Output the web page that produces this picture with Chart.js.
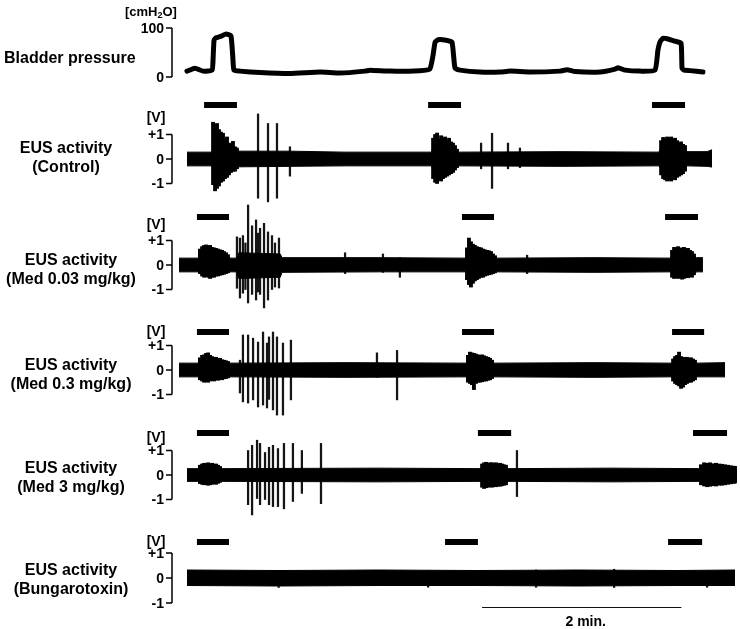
<!DOCTYPE html>
<html lang="en">
  <head>
    <meta charset="UTF-8" />
    <title>Bladder pressure and EUS activity</title>
    <script src="https://cdn.jsdelivr.net/npm/chart.js"></script>
    <style>
      body {
        margin: 0;
        background: #fff;
      }
      .figure {
        position: relative;
        width: 740px;
        height: 629px;
      }
      .figure canvas {
        position: absolute;
        left: 0;
      }
    </style>
  </head>
  <body>
    <div class="figure">
      <canvas id="bladder" width="740" height="96" style="top: 0px"></canvas>
      <canvas id="ctrl" width="740" height="108" style="top: 96px"></canvas>
      <canvas id="m003" width="740" height="110" style="top: 204px"></canvas>
      <canvas id="m03" width="740" height="108" style="top: 314px"></canvas>
      <canvas id="m3" width="740" height="100" style="top: 422px"></canvas>
      <canvas id="btx" width="740" height="107" style="top: 522px"></canvas>
    </div>
    <script>
      const font = '"Liberation Sans", Arial, sans-serif';

      // time axis, seconds
      const timeMin = 0;
      const timeMax = 336;
      const scaleBarStart = 182.5;
      const scaleBarLen = 120; // 2 min.

      const bladderTicks = [100, 0];
      const bladderTickLabels = ["100", "0"];
      const eusTicks = [1, 0, -1];
      const eusTickLabels = ["+1", "0", "-1"];

      // bladder pressure (cmH2O)
      const bladderT = [4.8, 9.6, 14.5, 19.9, 20.5, 21.1, 22.3, 25.9, 28.3, 31.3, 32.5, 33.1, 36.7, 48.8, 66.8, 84.9, 97, 112, 115, 127, 145, 151, 153, 154.2, 156, 160.8, 164.4, 166.2, 169.2, 181.3, 193.3, 199.3, 211.4, 229.4, 233.7, 238.5, 253.5, 262.6, 264.4, 268.6, 277.6, 286.6, 288.4, 289.6, 291.4, 293.9, 298.7, 302.3, 302.9, 304.1, 307.7, 315.5];
      const bladderP = [12, 18, 12, 14, 35, 75, 80, 84, 88, 84, 35, 14, 12, 9, 7, 10, 8, 12, 14, 12, 13, 16, 45, 71, 76, 75, 71, 18, 14, 10, 10, 12, 10, 12, 15, 11, 10, 16, 19, 14, 12, 14, 55, 71, 79, 78, 73, 69, 18, 14, 13, 10];

      // EUS activity (V): noise envelope, burst samples, single spikes, voiding bars
      const ctrlT = [4.8, 20, 20.5, 35, 36.5, 66.8, 100, 152, 153, 167.4, 168, 230, 289, 290.3, 304.7, 305.5, 318, 321];
      const ctrlHi = [0.28, 0.28, 0.5, 0.4, 0.32, 0.32, 0.28, 0.28, 0.5, 0.35, 0.28, 0.3, 0.28, 0.5, 0.45, 0.3, 0.3, 0.38];
      const ctrlLo = [-0.28, -0.28, -0.45, -0.35, -0.32, -0.3, -0.28, -0.28, -0.45, -0.32, -0.28, -0.3, -0.28, -0.45, -0.45, -0.28, -0.3, -0.33];
      const ctrlBurstT = [20.5, 21.7, 22.9, 24.1, 25.3, 26.5, 27.7, 28.9, 30.1, 31.3, 32.5, 33.7, 34.9, 153, 154.2, 155.4, 156.6, 157.8, 159, 160.2, 161.4, 162.6, 163.8, 165, 166.2, 167.4, 290.3, 291.5, 292.7, 293.9, 295.1, 296.3, 297.5, 298.7, 299.9, 301.1, 302.3, 303.5, 304.7];
      const ctrlBurstHi = [1.5, 1.4, 1.45, 1.2, 1.1, 1.05, 0.8, 0.9, 0.65, 0.6, 0.72, 0.5, 0.45, 0.85, 1.0, 1.06, 0.8, 0.95, 0.85, 0.9, 0.75, 0.85, 0.7, 0.65, 0.55, 0.4, 0.75, 0.88, 0.8, 0.9, 0.85, 0.9, 0.8, 0.85, 0.75, 0.65, 0.7, 0.6, 0.55];
      const ctrlBurstLo = [-1.05, -1.3, -1.2, -1.1, -0.95, -0.9, -0.8, -0.75, -0.65, -0.55, -0.5, -0.5, -0.4, -0.8, -0.95, -1.0, -0.85, -0.9, -0.8, -0.75, -0.7, -0.65, -0.6, -0.55, -0.45, -0.35, -0.65, -0.8, -0.85, -0.9, -0.85, -0.9, -0.8, -0.85, -0.75, -0.7, -0.65, -0.6, -0.5];
      const ctrlSpikeT = [47.6, 53.6, 59, 66.8, 181.9, 188.5, 198.1, 205.3];
      const ctrlSpikeHi = [1.84, 1.45, 1.45, 0.5, 0.65, 1.05, 0.65, 0.45];
      const ctrlSpikeLo = [-1.6, -1.75, -1.6, -0.7, -0.4, -1.2, -0.4, -0.35];
      const ctrlVoidStart = [15.1, 150, 284.8];
      const ctrlVoidEnd = [34.9, 169.8, 304.7];

      const m003T = [0, 12, 12.6, 29.5, 30.5, 35, 36, 61, 62, 120, 173, 173.4, 190.3, 191, 250, 296, 296.9, 310.7, 311.5, 315.5];
      const m003Hi = [0.28, 0.28, 0.4, 0.35, 0.28, 0.28, 0.5, 0.45, 0.3, 0.3, 0.28, 0.45, 0.35, 0.28, 0.3, 0.28, 0.4, 0.35, 0.3, 0.3];
      const m003Lo = [-0.28, -0.28, -0.3, -0.28, -0.28, -0.28, -0.55, -0.5, -0.3, -0.28, -0.28, -0.45, -0.3, -0.28, -0.3, -0.28, -0.4, -0.35, -0.28, -0.28];
      const m003BurstT = [12.6, 13.9, 15.1, 16.3, 17.5, 18.7, 19.9, 21.1, 22.3, 23.5, 24.7, 25.9, 27.1, 28.3, 29.5, 173.4, 174.6, 175.8, 177, 178.2, 179.4, 180.6, 181.9, 183.1, 184.3, 185.5, 186.7, 187.9, 189.1, 190.3, 296.9, 298.1, 299.3, 300.5, 301.7, 302.9, 304.1, 305.3, 306.5, 307.7, 308.9, 310.1];
      const m003BurstHi = [0.65, 0.75, 0.8, 0.82, 0.78, 0.8, 0.72, 0.7, 0.68, 0.65, 0.62, 0.6, 0.55, 0.5, 0.42, 0.7, 1.1, 0.95, 0.85, 0.8, 0.75, 0.72, 0.7, 0.65, 0.62, 0.6, 0.58, 0.55, 0.45, 0.38, 0.6, 0.72, 0.7, 0.75, 0.68, 0.7, 0.72, 0.65, 0.68, 0.6, 0.55, 0.45];
      const m003BurstLo = [-0.35, -0.45, -0.5, -0.48, -0.5, -0.55, -0.5, -0.5, -0.45, -0.45, -0.42, -0.4, -0.38, -0.35, -0.32, -0.6, -0.8, -0.9, -0.75, -0.65, -0.6, -0.55, -0.5, -0.5, -0.45, -0.42, -0.4, -0.38, -0.35, -0.32, -0.5, -0.55, -0.52, -0.55, -0.5, -0.58, -0.55, -0.5, -0.52, -0.45, -0.5, -0.4];
      const m003SpikeT = [34.9, 36.7, 38.5, 40, 41.6, 44, 46.4, 47.6, 48.8, 51.2, 53.6, 56, 57.8, 60.2, 100, 122.8, 133, 209.6];
      const m003SpikeHi = [1.15, 1.1, 1.2, 0.9, 2.45, 1.6, 1.84, 1.3, 1.5, 1.7, 1.35, 1.2, 0.9, 1.1, 0.5, 0.45, 0.3, 0.4];
      const m003SpikeLo = [-0.95, -1.35, -1.15, -1.0, -1.55, -1.2, -1.43, -1.1, -1.2, -1.75, -1.43, -1.0, -0.9, -0.94, -0.35, -0.3, -0.5, -0.35];
      const m003VoidStart = [10.8, 170.4, 292.7];
      const m003VoidEnd = [30.1, 189.7, 312.5];

      const m03T = [0, 12, 12.6, 29.5, 30.5, 100, 173.5, 174, 188.5, 189.5, 250, 297, 297.5, 310.7, 311.5, 328.8];
      const m03Hi = [0.28, 0.28, 0.4, 0.3, 0.28, 0.3, 0.28, 0.45, 0.35, 0.28, 0.3, 0.28, 0.4, 0.35, 0.28, 0.3];
      const m03Lo = [-0.28, -0.28, -0.35, -0.3, -0.28, -0.3, -0.28, -0.4, -0.32, -0.28, -0.3, -0.28, -0.4, -0.35, -0.28, -0.28];
      const m03BurstT = [12.6, 13.9, 15.1, 16.3, 17.5, 18.7, 19.9, 21.1, 22.3, 23.5, 24.7, 25.9, 27.1, 28.3, 29.5, 174, 175.2, 176.4, 177.6, 178.8, 180, 181.3, 182.5, 183.7, 184.9, 186.1, 187.3, 188.5, 297.5, 298.7, 299.9, 301.1, 302.3, 303.5, 304.7, 305.9, 307.1, 308.3, 309.5, 310.7];
      const m03BurstHi = [0.5, 0.6, 0.62, 0.68, 0.7, 0.6, 0.55, 0.5, 0.52, 0.45, 0.48, 0.42, 0.4, 0.38, 0.35, 0.6, 0.73, 0.7, 0.68, 0.65, 0.62, 0.6, 0.62, 0.58, 0.55, 0.52, 0.48, 0.4, 0.45, 0.55, 0.6, 0.73, 0.55, 0.52, 0.5, 0.52, 0.48, 0.5, 0.45, 0.4];
      const m03BurstLo = [-0.4, -0.45, -0.5, -0.48, -0.5, -0.45, -0.42, -0.45, -0.4, -0.42, -0.38, -0.4, -0.36, -0.35, -0.32, -0.5, -0.55, -0.6, -0.8, -0.55, -0.5, -0.5, -0.48, -0.45, -0.45, -0.42, -0.4, -0.35, -0.45, -0.55, -0.6, -0.65, -0.75, -0.7, -0.6, -0.55, -0.5, -0.5, -0.45, -0.4];
      const m03SpikeT = [36.7, 38.5, 41.6, 44.6, 47.6, 50.6, 53, 54.2, 56.6, 59, 62.6, 67.4, 119.2, 131.3];
      const m03SpikeHi = [0.4, 1.43, 1.43, 1.3, 1.14, 1.55, 1.1, 1.35, 1.55, 1.35, 1.1, 1.22, 0.7, 0.8];
      const m03SpikeLo = [-0.94, -1.3, -1.35, -1.22, -1.51, -1.43, -1.55, -1.2, -1.63, -1.84, -1.84, -1.22, -0.3, -1.22];
      const m03VoidStart = [10.8, 170.4, 296.9];
      const m03VoidEnd = [30.1, 189.7, 316.2];

      const m3T = [4.8, 12, 12.6, 24.7, 25.5, 120, 182, 182.5, 197, 198, 260, 313.5, 314.3, 336];
      const m3Hi = [0.26, 0.26, 0.35, 0.3, 0.26, 0.28, 0.26, 0.4, 0.35, 0.26, 0.28, 0.26, 0.38, 0.34];
      const m3Lo = [-0.26, -0.26, -0.3, -0.28, -0.26, -0.28, -0.26, -0.4, -0.35, -0.26, -0.28, -0.26, -0.36, -0.32];
      const m3BurstT = [12.6, 13.9, 15.1, 16.3, 17.5, 18.7, 19.9, 21.1, 22.3, 23.5, 24.7, 182.5, 183.7, 184.9, 186.1, 187.3, 188.5, 189.7, 190.9, 192.1, 193.3, 194.5, 195.7, 196.9, 314.3, 316.2, 318, 319.8, 321.6, 323.4, 325.2, 327, 328.8, 330.6, 332.4, 334.2];
      const m3BurstHi = [0.4, 0.45, 0.48, 0.45, 0.5, 0.46, 0.48, 0.44, 0.45, 0.4, 0.35, 0.45, 0.5, 0.52, 0.48, 0.5, 0.5, 0.48, 0.5, 0.46, 0.48, 0.45, 0.42, 0.4, 0.42, 0.5, 0.48, 0.5, 0.46, 0.48, 0.45, 0.44, 0.42, 0.4, 0.38, 0.36];
      const m3BurstLo = [-0.35, -0.38, -0.4, -0.38, -0.42, -0.4, -0.38, -0.36, -0.38, -0.34, -0.3, -0.5, -0.55, -0.52, -0.5, -0.48, -0.5, -0.46, -0.48, -0.45, -0.46, -0.44, -0.42, -0.4, -0.4, -0.45, -0.48, -0.46, -0.44, -0.45, -0.42, -0.42, -0.4, -0.38, -0.36, -0.34];
      const m3SpikeT = [41.6, 44, 47, 48.8, 51.8, 54.2, 56.6, 59.6, 63.2, 68.6, 74, 85.5, 203.5];
      const m3SpikeHi = [1.0, 1.21, 1.42, 1.29, 0.92, 1.13, 1.21, 1.08, 1.29, 1.29, 1.0, 1.29, 1.0];
      const m3SpikeLo = [-1.21, -1.63, -0.96, -1.21, -1.0, -1.21, -1.29, -1.29, -1.38, -1.08, -0.75, -1.17, -0.88];
      const m3VoidStart = [10.8, 180, 309.5];
      const m3VoidEnd = [30.1, 200, 330];

      const btxT = [4.8, 60, 120, 180, 240, 300, 334.8];
      const btxHi = [0.32, 0.3, 0.32, 0.3, 0.32, 0.3, 0.32];
      const btxLo = [-0.3, -0.32, -0.3, -0.3, -0.32, -0.3, -0.3];
      const btxBurstT = [];
      const btxBurstHi = [];
      const btxBurstLo = [];
      const btxSpikeT = [60, 150, 215, 262, 318];
      const btxSpikeHi = [0.3, 0.3, 0.32, 0.35, 0.3];
      const btxSpikeLo = [-0.38, -0.37, -0.37, -0.38, -0.37];
      const btxVoidStart = [10.8, 160.2, 294.5];
      const btxVoidEnd = [30.1, 180, 315];

      const decor = {
        id: "decor",
        afterDraw(chart, args, o) {
          const ctx = chart.ctx;
          const x = chart.scales.x;
          const y = chart.scales.y;
          const zero = y.getPixelForValue(0);
          ctx.save();
          ctx.fillStyle = "#000";
          ctx.strokeStyle = "#000";

          // panel title
          ctx.font = "bold 16px " + font;
          ctx.textBaseline = "alphabetic";
          ctx.textAlign = o.titleAlign;
          o.title.forEach((line, i) => {
            ctx.fillText(line, o.titleX, zero + o.titleDy + i * 19);
          });

          // scale bracket
          const top = y.getPixelForValue(o.ticks[0]);
          const bot = y.getPixelForValue(o.ticks[o.ticks.length - 1]);
          ctx.lineWidth = 1.5;
          ctx.beginPath();
          ctx.moveTo(172, top);
          ctx.lineTo(172, bot);
          o.ticks.forEach((v) => {
            const p = y.getPixelForValue(v);
            ctx.moveTo(166, p);
            ctx.lineTo(172, p);
          });
          ctx.stroke();

          ctx.font = "bold 14px " + font;
          ctx.textAlign = "right";
          ctx.textBaseline = "middle";
          o.ticks.forEach((v, i) => {
            ctx.fillText(o.tickLabels[i], 164, y.getPixelForValue(v) + 1);
          });

          // unit
          if (o.unit === "cmH2O") {
            ctx.textAlign = "left";
            ctx.font = "bold 13px " + font;
            let ux = 125;
            const uy = 12;
            ctx.fillText("[cmH", ux, uy);
            ux += ctx.measureText("[cmH").width;
            ctx.font = "bold 9px " + font;
            ctx.fillText("2", ux, uy + 4);
            ux += ctx.measureText("2").width;
            ctx.font = "bold 13px " + font;
            ctx.fillText("O]", ux, uy);
          } else {
            ctx.textAlign = "center";
            ctx.fillText(o.unit, 156, zero + o.unitDy);
          }

          // voiding bars
          if (o.voidStart) {
            const py = zero + o.voidDy;
            o.voidStart.forEach((s, i) => {
              const a = x.getPixelForValue(s);
              const b = x.getPixelForValue(o.voidEnd[i]);
              ctx.fillRect(a, py - 3, b - a, 6);
            });
          }

          // time scale bar
          if (o.scaleBar) {
            const a = x.getPixelForValue(scaleBarStart);
            const b = x.getPixelForValue(scaleBarStart + scaleBarLen);
            const py = zero + o.scaleBarDy;
            ctx.strokeStyle = "#111";
            ctx.lineWidth = 1;
            ctx.beginPath();
            ctx.moveTo(a, py + 0.5);
            ctx.lineTo(b, py + 0.5);
            ctx.stroke();
            ctx.font = "bold 14px " + font;
            ctx.textAlign = "center";
            ctx.fillText("2 min.", (a + b) / 2 + 4, py + 15);
          }
          ctx.restore();
        },
      };

      function makeChart(id, datasets, panel, decorOpts) {
        const h = document.getElementById(id).height;
        const yMax = (panel.zeroPx - panel.top) / panel.pxPerUnit;
        const yMin = -(panel.top + h - panel.zeroPx) / panel.pxPerUnit;
        return new Chart(document.getElementById(id), {
          type: "line",
          data: { datasets: datasets },
          options: {
            responsive: false,
            animation: false,
            events: [],
            devicePixelRatio: 1,
            layout: { padding: { left: 179, right: 3, top: 0, bottom: 0 } },
            scales: {
              x: { type: "linear", min: timeMin, max: timeMax, display: false, offset: false },
              y: { min: yMin, max: yMax, display: false },
            },
            plugins: {
              legend: { display: false },
              tooltip: { enabled: false },
              decor: decorOpts,
            },
          },
          plugins: [decor],
        });
      }

      function floating(t, hi, lo) {
        return t.map((v, i) => ({ x: v, y: [lo[i], hi[i]] }));
      }

      function eusData(t, hi, lo, bt, bHi, bLo, st, sHi, sLo) {
        return [
          {
            type: "line",
            data: t.map((v, i) => ({ x: v, y: hi[i] })),
            borderColor: "#000",
            backgroundColor: "#000",
            borderWidth: 1,
            pointRadius: 0,
            tension: 0,
            fill: "+1",
          },
          {
            type: "line",
            data: t.map((v, i) => ({ x: v, y: lo[i] })),
            borderColor: "#000",
            borderWidth: 1,
            pointRadius: 0,
            tension: 0,
            fill: false,
          },
          {
            type: "bar",
            data: floating(bt, bHi, bLo),
            backgroundColor: "#000",
            barThickness: 3.2,
            grouped: false,
          },
          {
            type: "bar",
            data: floating(st, sHi, sLo),
            backgroundColor: "#151515",
            barThickness: 1.6,
            grouped: false,
          },
        ];
      }

      makeChart(
        "bladder",
        [
          {
            data: bladderT.map((v, i) => ({ x: v, y: bladderP[i] })),
            borderColor: "#000",
            borderWidth: 5,
            borderJoinStyle: "round",
            borderCapStyle: "round",
            pointRadius: 0,
            tension: 0.15,
            fill: false,
          },
        ],
        { top: 0, zeroPx: 77, pxPerUnit: 0.49 },
        {
          title: ["Bladder pressure"],
          titleX: 4,
          titleAlign: "left",
          titleDy: -14,
          ticks: bladderTicks,
          tickLabels: bladderTickLabels,
          unit: "cmH2O",
        }
      );

      makeChart(
        "ctrl",
        eusData(ctrlT, ctrlHi, ctrlLo, ctrlBurstT, ctrlBurstHi, ctrlBurstLo, ctrlSpikeT, ctrlSpikeHi, ctrlSpikeLo),
        { top: 96, zeroPx: 159, pxPerUnit: 24.5 },
        {
          title: ["EUS activity", "(Control)"],
          titleX: 66,
          titleAlign: "center",
          titleDy: -6,
          ticks: eusTicks,
          tickLabels: eusTickLabels,
          unit: "[V]",
          unitDy: -41,
          voidStart: ctrlVoidStart,
          voidEnd: ctrlVoidEnd,
          voidDy: -54,
        }
      );

      makeChart(
        "m003",
        eusData(m003T, m003Hi, m003Lo, m003BurstT, m003BurstHi, m003BurstLo, m003SpikeT, m003SpikeHi, m003SpikeLo),
        { top: 204, zeroPx: 265, pxPerUnit: 24.5 },
        {
          title: ["EUS activity", "(Med 0.03 mg/kg)"],
          titleX: 71,
          titleAlign: "center",
          titleDy: 0,
          ticks: eusTicks,
          tickLabels: eusTickLabels,
          unit: "[V]",
          unitDy: -40,
          voidStart: m003VoidStart,
          voidEnd: m003VoidEnd,
          voidDy: -48,
        }
      );

      makeChart(
        "m03",
        eusData(m03T, m03Hi, m03Lo, m03BurstT, m03BurstHi, m03BurstLo, m03SpikeT, m03SpikeHi, m03SpikeLo),
        { top: 314, zeroPx: 370, pxPerUnit: 24.5 },
        {
          title: ["EUS activity", "(Med 0.3 mg/kg)"],
          titleX: 71,
          titleAlign: "center",
          titleDy: 0,
          ticks: eusTicks,
          tickLabels: eusTickLabels,
          unit: "[V]",
          unitDy: -38,
          voidStart: m03VoidStart,
          voidEnd: m03VoidEnd,
          voidDy: -38,
        }
      );

      makeChart(
        "m3",
        eusData(m3T, m3Hi, m3Lo, m3BurstT, m3BurstHi, m3BurstLo, m3SpikeT, m3SpikeHi, m3SpikeLo),
        { top: 422, zeroPx: 475, pxPerUnit: 24.5 },
        {
          title: ["EUS activity", "(Med 3 mg/kg)"],
          titleX: 71,
          titleAlign: "center",
          titleDy: -2,
          ticks: eusTicks,
          tickLabels: eusTickLabels,
          unit: "[V]",
          unitDy: -37,
          voidStart: m3VoidStart,
          voidEnd: m3VoidEnd,
          voidDy: -42,
        }
      );

      makeChart(
        "btx",
        eusData(btxT, btxHi, btxLo, btxBurstT, btxBurstHi, btxBurstLo, btxSpikeT, btxSpikeHi, btxSpikeLo),
        { top: 522, zeroPx: 578, pxPerUnit: 25 },
        {
          title: ["EUS activity", "(Bungarotoxin)"],
          titleX: 71,
          titleAlign: "center",
          titleDy: -3,
          ticks: eusTicks,
          tickLabels: eusTickLabels,
          unit: "[V]",
          unitDy: -36,
          voidStart: btxVoidStart,
          voidEnd: btxVoidEnd,
          voidDy: -36,
          scaleBar: true,
          scaleBarDy: 29,
        }
      );
    </script>
  </body>
</html>
